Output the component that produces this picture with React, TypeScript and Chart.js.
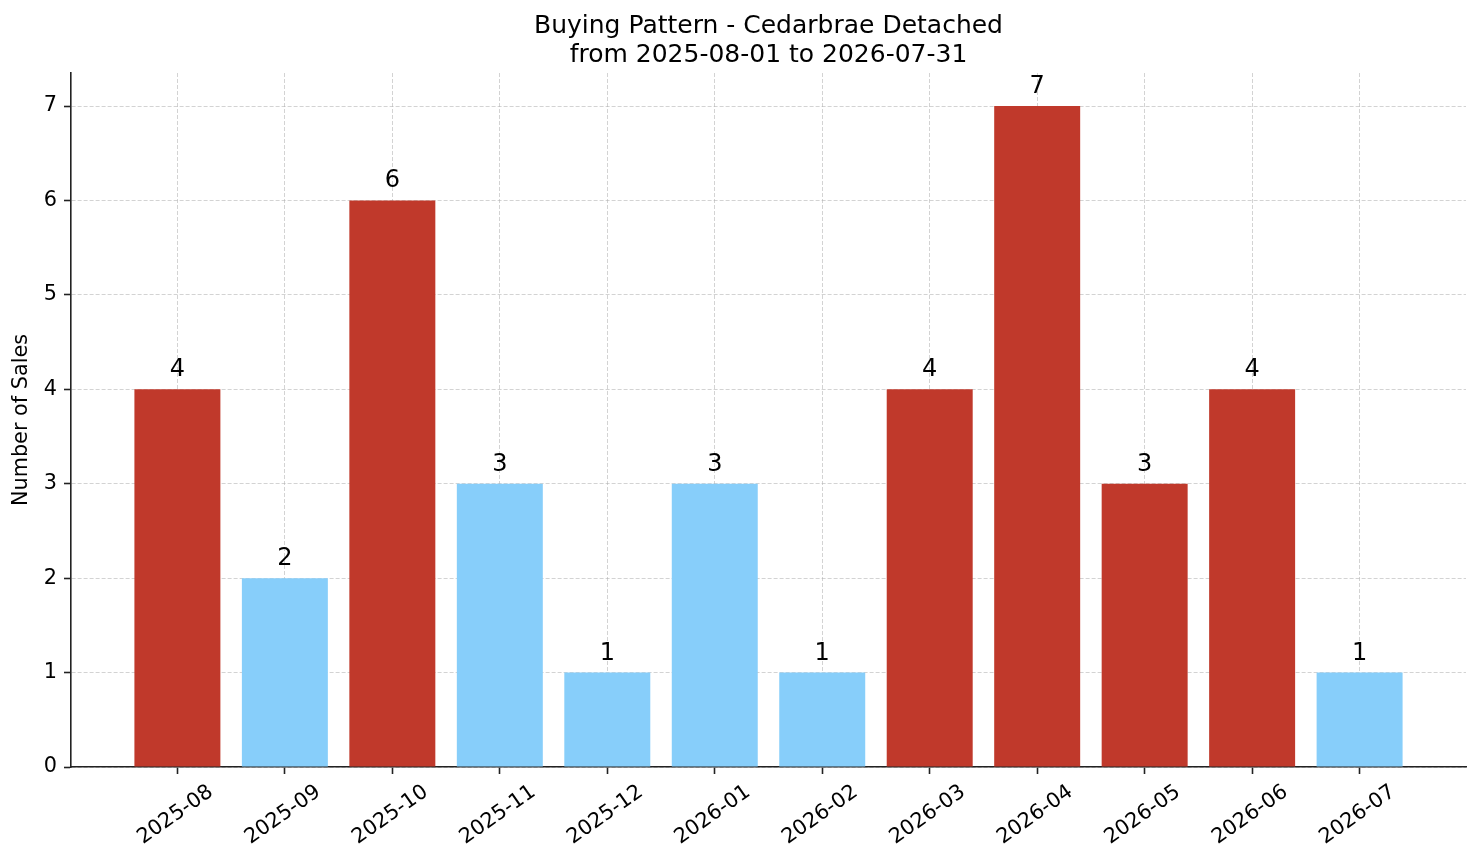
import { useEffect, useRef } from 'react'
import { Chart, registerables, Plugin } from 'chart.js'

Chart.register(...registerables)

const months = [
  '2025-08', '2025-09', '2025-10', '2025-11', '2025-12', '2026-01',
  '2026-02', '2026-03', '2026-04', '2026-05', '2026-06', '2026-07',
]
const sales = [4, 2, 6, 3, 1, 3, 1, 4, 7, 3, 4, 1]
// months drawn in red
const highlighted = [true, false, true, false, false, false, false, true, true, true, true, false]
const yTicks = [0, 1, 2, 3, 4, 5, 6, 7]
const titleLines = ['Buying Pattern - Cedarbrae Detached', 'from 2025-08-01 to 2026-07-31']

const RED = '#c0392b'
const BLUE = '#87cefa'
const FONT = "'DejaVu Sans', sans-serif"

// title centred over the plot area, like matplotlib
const titlePlugin: Plugin<'bar'> = {
  id: 'plotTitle',
  afterDraw(chart) {
    const { ctx, chartArea } = chart
    const cx = (chartArea.left + chartArea.right) / 2
    ctx.save()
    ctx.fillStyle = '#000'
    ctx.font = `25px ${FONT}`
    ctx.textAlign = 'center'
    ctx.textBaseline = 'alphabetic'
    titleLines.forEach((line, i) => ctx.fillText(line, cx, 33 + i * 29))
    ctx.restore()
  },
}

// value above each bar
const valuePlugin: Plugin<'bar'> = {
  id: 'valueLabels',
  afterDraw(chart) {
    const { ctx } = chart
    const meta = chart.getDatasetMeta(0)
    ctx.save()
    ctx.fillStyle = '#000'
    ctx.font = `24px ${FONT}`
    ctx.textAlign = 'center'
    ctx.textBaseline = 'alphabetic'
    meta.data.forEach((bar: any, i) => {
      ctx.fillText(String(sales[i]), bar.x, bar.y - 13)
    })
    ctx.restore()
  },
}

// rotated month labels, centred under each tick
const monthLabelPlugin: Plugin<'bar'> = {
  id: 'monthLabels',
  afterDraw(chart) {
    const { ctx, chartArea } = chart
    const xs = chart.scales.x
    ctx.save()
    ctx.fillStyle = '#000'
    ctx.font = `20.8px ${FONT}`
    ctx.textAlign = 'center'
    ctx.textBaseline = 'middle'
    months.forEach((m, i) => {
      ctx.save()
      ctx.translate(xs.getPixelForValue(i) - 2, chartArea.bottom + 48)
      ctx.rotate((-35 * Math.PI) / 180)
      ctx.fillText(m, 0, 0)
      ctx.restore()
    })
    ctx.restore()
  },
}

export default function App() {
  const chartRef = useRef<HTMLCanvasElement>(null)
  const chartInstance = useRef<Chart | null>(null)

  useEffect(() => {
    if (!chartRef.current) return
    if (chartInstance.current) chartInstance.current.destroy()
    const ctx = chartRef.current.getContext('2d')
    if (!ctx) return

    const gridColor = 'rgba(175, 175, 175, 0.55)'

    chartInstance.current = new Chart(ctx, {
      type: 'bar',
      data: {
        datasets: [
          {
            data: sales.map((v, i) => ({ x: i, y: v })) as any,
            backgroundColor: highlighted.map((h) => (h ? RED : BLUE)),
            barPercentage: 1,
            categoryPercentage: 0.8,
          },
        ],
      },
      options: {
        animation: false,
        responsive: true,
        maintainAspectRatio: false,
        layout: { padding: { top: 73, right: 15, left: 0, bottom: 0 } },
        plugins: {
          legend: { display: false },
          tooltip: { enabled: false },
          title: { display: false },
        },
        scales: {
          x: {
            type: 'linear',
            min: -0.99,
            max: 11.99,
            offset: false,
            z: 1,
            afterBuildTicks: (scale) => {
              scale.ticks = months.map((_, i) => ({ value: i }))
            },
            afterFit: (scale) => {
              scale.height = 96
            },
            grid: {
              offset: false,
              color: gridColor,
              lineWidth: 1,
              tickColor: '#222',
              tickLength: 7,
              tickWidth: 1.6,
              tickBorderDash: [],
            },
            border: { display: true, color: '#222', width: 1.6, dash: [4, 2] },
            ticks: { display: false },
          },
          y: {
            type: 'linear',
            min: 0,
            max: 7.35,
            z: 1,
            afterBuildTicks: (scale) => {
              scale.ticks = yTicks.map((v) => ({ value: v }))
            },
            afterFit: (scale) => {
              scale.width = 71
            },
            grid: {
              color: gridColor,
              lineWidth: 1,
              tickColor: '#222',
              tickLength: 7,
              tickWidth: 1.6,
              tickBorderDash: [],
            },
            border: { display: true, color: '#222', width: 1.6, dash: [4, 2] },
            ticks: {
              color: '#000',
              padding: 7,
              font: { family: FONT, size: 20.8 },
              callback: (value) => String(value),
            },
            title: {
              display: true,
              text: 'Number of Sales',
              color: '#000',
              font: { family: FONT, size: 20.8 },
              padding: { top: 9, bottom: 0 },
            },
          },
        },
      },
      plugins: [titlePlugin, valuePlugin, monthLabelPlugin],
    })

    return () => {
      if (chartInstance.current) {
        chartInstance.current.destroy()
        chartInstance.current = null
      }
    }
  }, [])

  return (
    <div style={{ position: 'fixed', left: 0, top: 0, width: 1481, height: 863, background: '#fff' }}>
      <canvas ref={chartRef} />
    </div>
  )
}
